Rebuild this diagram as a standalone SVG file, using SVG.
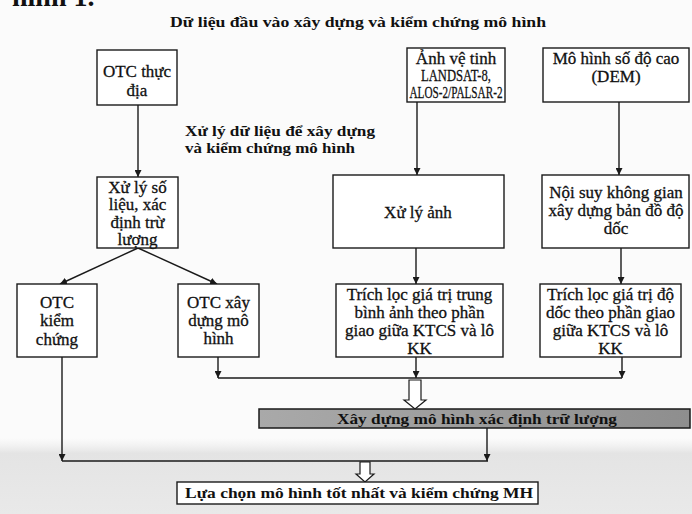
<svg xmlns="http://www.w3.org/2000/svg" width="692" height="514" viewBox="0 0 692 514">
<style>
.box{fill:#fff;stroke:#1a1a1a;stroke-width:1.4}
.t{font-family:"Liberation Serif","Times New Roman",serif;font-size:17px;fill:#111;stroke:#111;stroke-width:0.3;text-anchor:middle}
.b{font-family:"Liberation Serif","Times New Roman",serif;font-weight:bold;fill:#111}
.ln{fill:none;stroke:#1a1a1a;stroke-width:1.4}
.hol{fill:#fff;stroke:#1a1a1a;stroke-width:1.2}
</style>
<defs>
<marker id="ah" viewBox="0 0 10 10" refX="10" refY="5" markerWidth="7" markerHeight="7" orient="auto" markerUnits="userSpaceOnUse">
<path d="M0,0 L10,5 L0,10 z" fill="#1a1a1a"/>
</marker>
<linearGradient id="gbar" x1="0" y1="0" x2="1" y2="0">
<stop offset="0" stop-color="#a9a9a9"/>
<stop offset="0.5" stop-color="#9c9c9c"/>
<stop offset="1" stop-color="#8e8e8e"/>
</linearGradient>
<linearGradient id="bg" x1="0" y1="0" x2="0" y2="1">
<stop offset="0" stop-color="#ececec" stop-opacity="0"/>
<stop offset="0.2" stop-color="#e4e4e4"/>
<stop offset="1" stop-color="#e9e9e9"/>
</linearGradient>
</defs>
<rect x="0" y="0" width="692" height="514" fill="#fbfbfb"/>
<rect x="0" y="438" width="692" height="76" fill="url(#bg)"/>

<text class="b" x="12" y="6" font-size="28">hình 1.</text>
<text class="b" x="170" y="27" font-size="14.5" textLength="376" lengthAdjust="spacingAndGlyphs">Dữ liệu đầu vào xây dựng và kiểm chứng mô hình</text>
<text class="b" x="185" y="136" font-size="14.5" textLength="190" lengthAdjust="spacingAndGlyphs">Xử lý dữ liệu để xây dựng</text>
<text class="b" x="185" y="153" font-size="14.5" textLength="170" lengthAdjust="spacingAndGlyphs">và kiểm chứng mô hình</text>

<g id="connectors">
<line class="ln" x1="138" y1="105" x2="138" y2="177" marker-end="url(#ah)"/>
<line class="ln" x1="138" y1="248" x2="60" y2="284" marker-end="url(#ah)"/>
<line class="ln" x1="138" y1="248" x2="217" y2="284" marker-end="url(#ah)"/>
<line class="ln" x1="62" y1="357" x2="62" y2="461" marker-end="url(#ah)"/>
<line class="ln" x1="218" y1="357" x2="218" y2="378" marker-end="url(#ah)"/>
<line class="ln" x1="417" y1="102" x2="417" y2="175" marker-end="url(#ah)"/>
<line class="ln" x1="619" y1="102" x2="619" y2="175" marker-end="url(#ah)"/>
<line class="ln" x1="416" y1="248" x2="416" y2="284" marker-end="url(#ah)"/>
<line class="ln" x1="621" y1="248" x2="621" y2="284" marker-end="url(#ah)"/>
<line class="ln" x1="416" y1="357" x2="416" y2="378" marker-end="url(#ah)"/>
<line class="ln" x1="622" y1="357" x2="622" y2="378" marker-end="url(#ah)"/>
<line class="ln" x1="218" y1="378" x2="622" y2="378"/>
<polygon class="hol" points="409,380 421,380 421,400 426,400 415,409 404,400 409,400"/>
<line class="ln" x1="487" y1="428" x2="487" y2="461" marker-end="url(#ah)"/>
<line class="ln" x1="62" y1="461" x2="488" y2="461"/>
<polygon class="hol" points="360,462 370,462 370,474 374,474 365,482 356,474 360,474"/>
</g>

<g id="n-otc-thuc-dia">
<rect class="box" x="97" y="50" width="80" height="55"/>
<text class="t" x="137" y="77">OTC thực</text>
<text class="t" x="137" y="96">địa</text>
</g>
<g id="n-xu-ly-so-lieu">
<rect class="box" x="97" y="177" width="81" height="71"/>
<text class="t" x="137.5" y="193">Xử lý số</text>
<text class="t" x="137.5" y="210">liệu, xác</text>
<text class="t" x="137.5" y="228">định trừ</text>
<text class="t" x="137.5" y="245">lượng</text>
</g>
<g id="n-otc-kiem-chung">
<rect class="box" x="17" y="284" width="80" height="73"/>
<text class="t" x="57" y="308">OTC</text>
<text class="t" x="57" y="326">kiểm</text>
<text class="t" x="57" y="345">chứng</text>
</g>
<g id="n-otc-xay-dung">
<rect class="box" x="178" y="284" width="81" height="73"/>
<text class="t" x="218.5" y="308">OTC xây</text>
<text class="t" x="218.5" y="326">dựng mô</text>
<text class="t" x="218.5" y="344">hình</text>
</g>
<g id="n-anh-ve-tinh">
<rect class="box" x="407" y="48" width="98" height="54"/>
<text class="t" x="456" y="64">Ảnh vệ tinh</text>
<text class="t" x="456" y="81" textLength="70" lengthAdjust="spacingAndGlyphs">LANDSAT-8,</text>
<text class="t" x="456" y="98" textLength="93" lengthAdjust="spacingAndGlyphs">ALOS-2/PALSAR-2</text>
</g>
<g id="n-dem">
<rect class="box" x="543" y="48" width="146" height="54"/>
<text class="t" x="616" y="64">Mô hình số độ cao</text>
<text class="t" x="616" y="82">(DEM)</text>
</g>
<g id="n-xu-ly-anh">
<rect class="box" x="333" y="175" width="171" height="73"/>
<text class="t" x="418" y="218">Xử lý ảnh</text>
</g>
<g id="n-noi-suy">
<rect class="box" x="542" y="175" width="147" height="73"/>
<text class="t" x="616" y="198">Nội suy không gian</text>
<text class="t" x="616" y="216">xây dựng bản đồ độ</text>
<text class="t" x="616" y="234">dốc</text>
</g>
<g id="n-trich-loc-anh">
<rect class="box" x="336" y="284" width="167" height="73"/>
<text class="t" x="419.5" y="300">Trích lọc giá trị trung</text>
<text class="t" x="419.5" y="318">bình ảnh theo phần</text>
<text class="t" x="419.5" y="336">giao giữa KTCS và lô</text>
<text class="t" x="419.5" y="354">KK</text>
</g>
<g id="n-trich-loc-doc">
<rect class="box" x="540" y="284" width="141" height="73"/>
<text class="t" x="610.5" y="300">Trích lọc giá trị độ</text>
<text class="t" x="610.5" y="318">dốc theo phần giao</text>
<text class="t" x="610.5" y="336">giữa KTCS và lô</text>
<text class="t" x="610.5" y="354">KK</text>
</g>
<g id="n-xay-dung-mo-hinh">
<rect x="259" y="409" width="431" height="19" fill="url(#gbar)" stroke="#1a1a1a" stroke-width="1.5"/>
<text class="b" x="337" y="424" font-size="14.5" textLength="280" lengthAdjust="spacingAndGlyphs">Xây dựng mô hình xác định trữ lượng</text>
</g>
<g id="n-lua-chon">
<rect class="box" x="177" y="482" width="361" height="22"/>
<text class="b" x="185" y="498" font-size="15" textLength="348" lengthAdjust="spacingAndGlyphs">Lựa chọn mô  hình tốt nhất và kiểm chứng MH</text>
</g>
</svg>
